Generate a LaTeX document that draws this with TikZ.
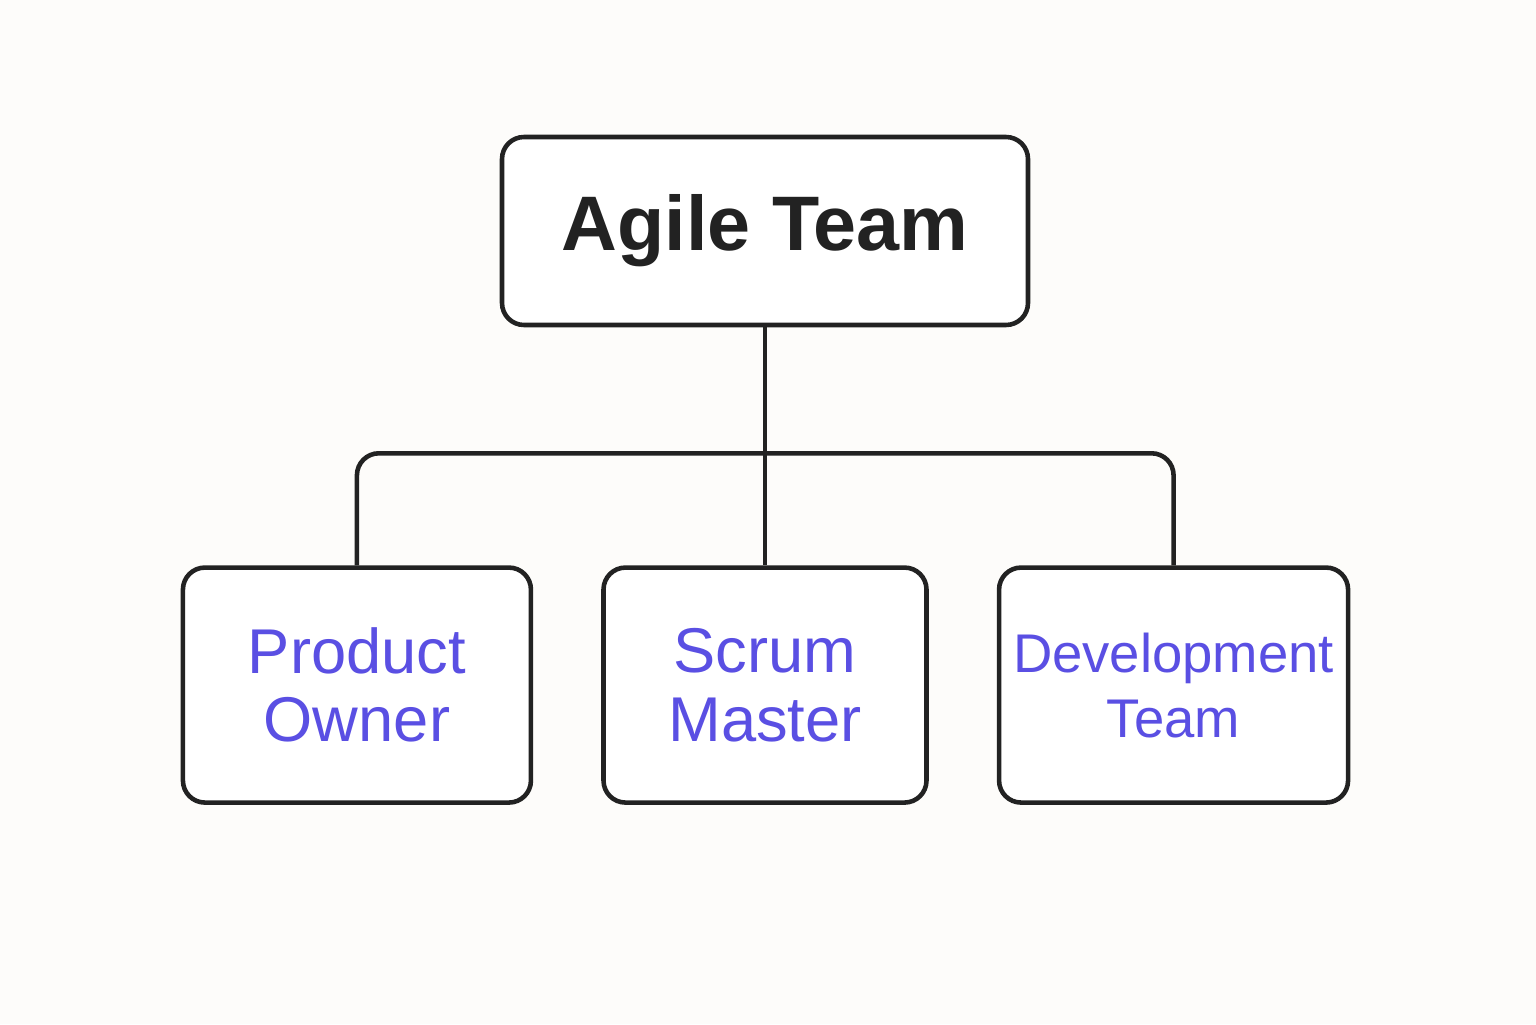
\documentclass[tikz,border=0pt]{standalone}
\usepackage{fontspec}
\setmainfont{Liberation Sans}
\usetikzlibrary{positioning, backgrounds}
\definecolor{bgcream}{HTML}{FDFCFA}
\definecolor{rolepurple}{HTML}{5A4FE3}
\definecolor{inkdark}{HTML}{222222}

\begin{document}
\begin{tikzpicture}[
        top/.style={rectangle, draw=inkdark, line width=1.3pt, fill=white, minimum width=5.26cm, minimum height=1.88cm, align=center, rounded corners=0.22cm, font=\fontsize{22}{26}\selectfont\bfseries, text=inkdark},
        role/.style={rectangle, draw=inkdark, line width=1.3pt, fill=white, minimum height=2.35cm, inner sep=1pt, align=center, rounded corners=0.22cm, font=\fontsize{18}{19.5}\selectfont, text=rolepurple},
        link/.style={draw=inkdark, line width=1.3pt, rounded corners=0.22cm}
    ]

    \fill[bgcream] (0,0) rectangle (15.36,10.24);
    \useasboundingbox (0,0) rectangle (15.36,10.24);

    % Agile Team
    \node (team) [top] at (7.65,7.93) {Agile Team};

    % Roles
    \node (scrum) [role, minimum width=3.23cm, below=2.38cm of team] {Scrum\\Master};
    \node (owner) [role, minimum width=3.48cm, left=0.68cm of scrum] {Product\\Owner};
    \node (devteam) [role, minimum width=3.49cm, right=0.68cm of scrum, font=\fontsize{15.5}{18.5}\selectfont] {Development\\Team};

    % Edges
    \coordinate (bus) at ([yshift=-1.26cm]team.south);
    \draw[link] (team.south) -- (scrum.north);
    \draw[link] (owner.north) |- (bus) -| (devteam.north);

\end{tikzpicture}
\end{document}
